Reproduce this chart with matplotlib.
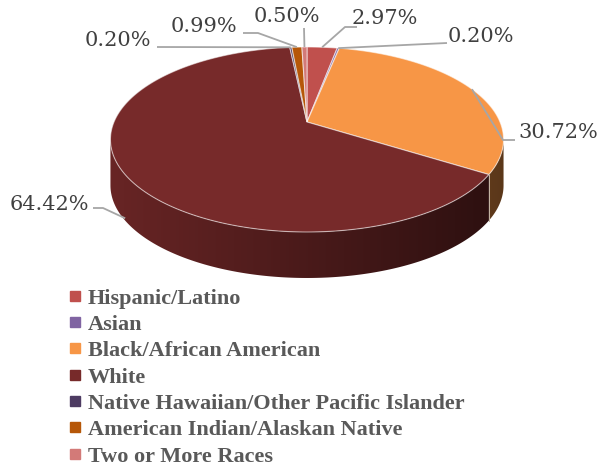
import numpy as np
import matplotlib
matplotlib.use("Agg")
import matplotlib.pyplot as plt
from matplotlib.patches import Polygon
from matplotlib.lines import Line2D

# data (clockwise from 12 o'clock)
categories = ["Hispanic/Latino", "Asian", "Black/African American", "White",
              "Native Hawaiian/Other Pacific Islander",
              "American Indian/Alaskan Native", "Two or More Races"]
shares = [2.97, 0.20, 30.72, 64.42, 0.20, 0.99, 0.50]
labels = ["2.97%", "0.20%", "30.72%", "64.42%", "0.20%", "0.99%", "0.50%"]
colors = ["#C0504D", "#8064A2", "#F79646", "#772A2A", "#4D3B62", "#B65708", "#D37A78"]

# label text centres and leader line points (pixel layout)
label_pos = [(385, 19), (481, 37), (558, 133), (49, 204), (118, 40), (204, 27), (287, 17)]
elbow = [(345, 27), (447, 43), (503, 140), (103, 208), (157, 47), (258, 33), (304, 28)]
start = [(357, 27), (447, 43), (515, 140), (93, 208), (157, 47), (243, 33), (304, 28)]

# pie geometry (pixels)
cx, cy = 307, 122
a, b, k = 193, 89.2, 0.189
depth = 46


def proj(alpha):
    u, v = np.sin(alpha), np.cos(alpha)
    w = 1 + k * v
    return cx + a * u / w, cy - b * v / w


fig = plt.figure(figsize=(5.99, 4.66), dpi=100)
ax = fig.add_axes([0, 0, 1, 1])
ax.set_xlim(0, 599)
ax.set_ylim(466, 0)
ax.axis("off")

fr = np.array(shares) / sum(shares)
edges = np.concatenate([[0], np.cumsum(fr)]) * 2 * np.pi
vis_lo, vis_hi = np.arccos(-k), 2 * np.pi - np.arccos(-k)

# side walls, shaded darker to the right
xg = np.linspace(cx - a * 1.05, cx + a * 1.05, 300)
shade = 0.62 - 0.25 * np.clip((xg - cx) / a, -1, 1)
for i in range(len(shares)):
    lo, hi = max(edges[i], vis_lo), min(edges[i + 1], vis_hi)
    if hi <= lo:
        continue
    t = np.linspace(lo, hi, 200)
    xs, ys = proj(t)
    pts = list(zip(xs, ys)) + list(zip(xs[::-1], ys[::-1] + depth))
    poly = Polygon(pts, closed=True, facecolor="none", edgecolor="none", zorder=1)
    ax.add_patch(poly)
    base = np.array(matplotlib.colors.to_rgb(colors[i]))
    img = np.clip(shade[None, :, None] * base[None, None, :], 0, 1)
    im = ax.imshow(img, extent=(xg[0], xg[-1], cy + b * 1.3 + depth, cy - b), aspect="auto",
                   interpolation="bilinear", zorder=1)
    im.set_clip_path(poly)
    if edges[i + 1] < vis_hi:
        x1, y1 = proj(edges[i + 1])
        ax.plot([x1, x1], [y1, y1 + depth], color="#c8b8a8", lw=0.7, zorder=2)

# top faces
for i in range(len(shares)):
    t = np.linspace(edges[i], edges[i + 1], max(3, int((edges[i + 1] - edges[i]) * 80)))
    xs, ys = proj(t)
    pts = [(cx, cy)] + list(zip(xs, ys))
    ax.add_patch(Polygon(pts, closed=True, facecolor=colors[i],
                         edgecolor=(1, 1, 1, 0.55), lw=0.8, zorder=3))

# data labels with leader lines
for i in range(len(shares)):
    mid = (edges[i] + edges[i + 1]) / 2
    ex, ey = proj(mid)
    if categories[i] == "White":
        ey += depth * 0.95
    ax.plot([start[i][0], elbow[i][0], ex], [start[i][1], elbow[i][1], ey],
            color="#a6a6a6", lw=1.3, zorder=4, solid_capstyle="butt")
    ax.text(label_pos[i][0], label_pos[i][1], labels[i], ha="center", va="center",
            fontsize=15, color="#404040", family="DejaVu Serif", zorder=5)

handles = [Line2D([], [], marker="s", linestyle="", color=c, markersize=7) for c in colors]
ax.legend(handles, categories, loc="upper left", bbox_to_anchor=(69 / 599, 1 - 288 / 466),
          frameon=False, handlelength=0.5, handletextpad=0.35, labelspacing=0.26,
          borderpad=0, borderaxespad=0,
          prop={"family": "Liberation Serif", "weight": "bold", "size": 16},
          labelcolor="#595959")

ax.set_xlim(0, 599)
ax.set_ylim(466, 0)
fig.savefig("out.png", dpi=100)
